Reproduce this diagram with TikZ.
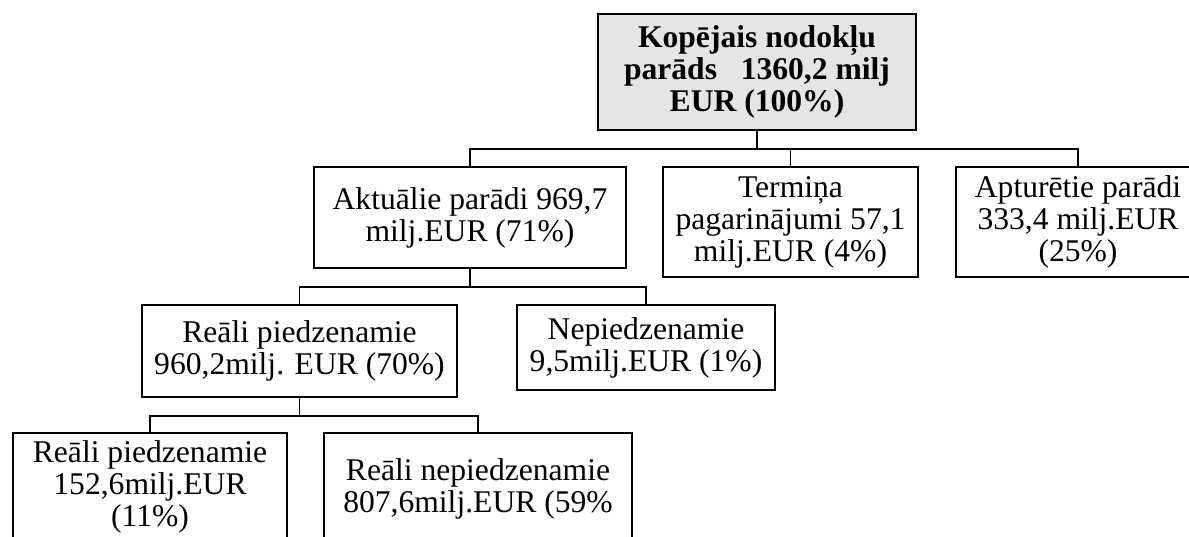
\documentclass[tikz,border=0pt]{standalone}
\usepackage{fontspec}
\setmainfont{Liberation Serif}
\usepackage{tikz}
\newcommand\debtfont{\fontsize{15.8}{16}\selectfont}
\tikzset{
  debtbox/.style={draw, line width=0.9pt, align=center, inner sep=0pt, font=\debtfont},
  link/.style={line width=0.6pt},
}

\begin{document}
\begin{tikzpicture}[x=0.5pt,y=-0.5pt]
  \path[use as bounding box, clip] (0,0) rectangle (1189,536);
  \def\drop{18}

  % kopējais parāds
  \node[debtbox, fill=black!10, font=\debtfont\bfseries, minimum width=159pt, minimum height=58pt] (total) at (757,72)
    {Kopējais nodokļu\\parāds~~~1360,2 milj\\EUR (100\%)};

  % pirmais līmenis
  \node[debtbox, minimum width=156pt, minimum height=50.5pt] (aktual) at (470,217.5)
    {Aktuālie parādi 969,7\\milj.EUR (71\%)};
  \node[debtbox, minimum width=127.5pt, minimum height=55pt] (termin) at (790.5,222)
    {Termiņa\\pagarinājumi 57,1\\milj.EUR (4\%)};
  \node[debtbox, minimum width=122pt, minimum height=55pt] (aptur) at (1078,222)
    {Apturētie parādi\\333,4 milj.EUR\\(25\%)};

  % otrais līmenis
  \node[debtbox, minimum width=157.5pt, minimum height=46pt] (realp) at (299.5,351)
    {Reāli piedzenamie\\960,2milj. EUR (70\%)};
  \node[debtbox, minimum width=129pt, minimum height=42.5pt] (nepied) at (646,347.5)
    {Nepiedzenamie\\9,5milj.EUR (1\%)};

  % trešais līmenis
  \node[debtbox, minimum width=137pt, minimum height=54pt] (realpa) at (150,487)
    {Reāli piedzenamie\\152,6milj.EUR\\(11\%)};
  \node[debtbox, minimum width=154pt, minimum height=56pt] (realnep) at (478,489)
    {Reāli nepiedzenamie\\807,6milj.EUR (59\%};

  % savienojumi
  \foreach \c in {aktual,termin,aptur} {
    \draw[link] (total.south) -- ++(0,\drop) -| (\c.north);
  }
  \foreach \c in {realp,nepied} {
    \draw[link] (aktual.south) -- ++(0,\drop) -| (\c.north);
  }
  \foreach \c in {realpa,realnep} {
    \draw[link] (realp.south) -- ++(0,\drop) -| (\c.north);
  }
\end{tikzpicture}
\end{document}
